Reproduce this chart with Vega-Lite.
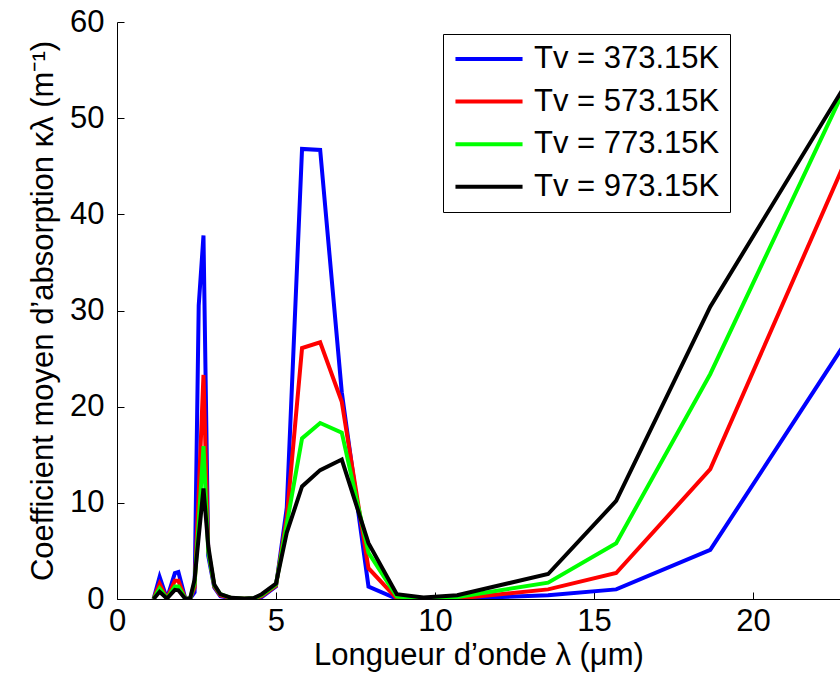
{
  "$schema": "https://vega.github.io/schema/vega-lite/v6.json",
  "width": 723,
  "height": 577,
  "autosize": {"type": "none"},
  "padding": {"left": 117, "top": 22, "right": 0, "bottom": 80},
  "background": "white",
  "config": {
    "view": {"stroke": null},
    "font": "Liberation Sans",
    "axis": {
      "domainColor": "black",
      "domainWidth": 1,
      "tickColor": "black",
      "tickWidth": 1,
      "tickSize": -7,
      "grid": false,
      "labelColor": "black",
      "titleColor": "black",
      "labelFont": "Liberation Sans",
      "titleFont": "Liberation Sans",
      "labelFontSize": 31,
      "titleFontSize": 31,
      "titleFontWeight": "normal"
    }
  },
  "data": {
    "values": [
      {"serie": "Tv = 373.15K", "lambda": 1.15, "kappa": 0},
      {"serie": "Tv = 373.15K", "lambda": 1.34, "kappa": 2.3},
      {"serie": "Tv = 373.15K", "lambda": 1.57, "kappa": 0.05},
      {"serie": "Tv = 373.15K", "lambda": 1.82, "kappa": 2.7},
      {"serie": "Tv = 373.15K", "lambda": 1.93, "kappa": 2.8},
      {"serie": "Tv = 373.15K", "lambda": 2.15, "kappa": 0.02},
      {"serie": "Tv = 373.15K", "lambda": 2.3, "kappa": 0.05},
      {"serie": "Tv = 373.15K", "lambda": 2.44, "kappa": 0.7},
      {"serie": "Tv = 373.15K", "lambda": 2.57, "kappa": 30.5},
      {"serie": "Tv = 373.15K", "lambda": 2.72, "kappa": 37.8},
      {"serie": "Tv = 373.15K", "lambda": 2.87, "kappa": 4.5},
      {"serie": "Tv = 373.15K", "lambda": 3.06, "kappa": 1.2},
      {"serie": "Tv = 373.15K", "lambda": 3.25, "kappa": 0.3},
      {"serie": "Tv = 373.15K", "lambda": 3.6, "kappa": 0.05},
      {"serie": "Tv = 373.15K", "lambda": 4.0, "kappa": 0.01},
      {"serie": "Tv = 373.15K", "lambda": 4.3, "kappa": 0.03},
      {"serie": "Tv = 373.15K", "lambda": 4.55, "kappa": 0.2},
      {"serie": "Tv = 373.15K", "lambda": 5.0, "kappa": 1.3},
      {"serie": "Tv = 373.15K", "lambda": 5.34, "kappa": 9.5},
      {"serie": "Tv = 373.15K", "lambda": 5.82, "kappa": 46.8},
      {"serie": "Tv = 373.15K", "lambda": 6.39, "kappa": 46.7},
      {"serie": "Tv = 373.15K", "lambda": 7.07, "kappa": 21.5},
      {"serie": "Tv = 373.15K", "lambda": 7.91, "kappa": 1.3},
      {"serie": "Tv = 373.15K", "lambda": 8.8, "kappa": 0.02},
      {"serie": "Tv = 373.15K", "lambda": 9.64, "kappa": 0},
      {"serie": "Tv = 373.15K", "lambda": 10.7, "kappa": 0.02},
      {"serie": "Tv = 373.15K", "lambda": 13.56, "kappa": 0.4},
      {"serie": "Tv = 373.15K", "lambda": 15.7, "kappa": 1.0},
      {"serie": "Tv = 373.15K", "lambda": 18.66, "kappa": 5.1},
      {"serie": "Tv = 373.15K", "lambda": 22.88, "kappa": 26.5},

      {"serie": "Tv = 573.15K", "lambda": 1.15, "kappa": 0},
      {"serie": "Tv = 573.15K", "lambda": 1.34, "kappa": 1.6},
      {"serie": "Tv = 573.15K", "lambda": 1.57, "kappa": 0.05},
      {"serie": "Tv = 573.15K", "lambda": 1.82, "kappa": 1.9},
      {"serie": "Tv = 573.15K", "lambda": 1.93, "kappa": 1.9},
      {"serie": "Tv = 573.15K", "lambda": 2.15, "kappa": 0.02},
      {"serie": "Tv = 573.15K", "lambda": 2.3, "kappa": 0.05},
      {"serie": "Tv = 573.15K", "lambda": 2.44, "kappa": 1.2},
      {"serie": "Tv = 573.15K", "lambda": 2.57, "kappa": 11},
      {"serie": "Tv = 573.15K", "lambda": 2.72, "kappa": 23.3},
      {"serie": "Tv = 573.15K", "lambda": 2.87, "kappa": 5},
      {"serie": "Tv = 573.15K", "lambda": 3.06, "kappa": 1.3},
      {"serie": "Tv = 573.15K", "lambda": 3.25, "kappa": 0.4},
      {"serie": "Tv = 573.15K", "lambda": 3.6, "kappa": 0.08},
      {"serie": "Tv = 573.15K", "lambda": 4.0, "kappa": 0.02},
      {"serie": "Tv = 573.15K", "lambda": 4.3, "kappa": 0.05},
      {"serie": "Tv = 573.15K", "lambda": 4.55, "kappa": 0.3},
      {"serie": "Tv = 573.15K", "lambda": 5.0, "kappa": 1.4},
      {"serie": "Tv = 573.15K", "lambda": 5.34, "kappa": 8.5},
      {"serie": "Tv = 573.15K", "lambda": 5.82, "kappa": 26.1},
      {"serie": "Tv = 573.15K", "lambda": 6.39, "kappa": 26.7},
      {"serie": "Tv = 573.15K", "lambda": 7.07, "kappa": 20.5},
      {"serie": "Tv = 573.15K", "lambda": 7.91, "kappa": 3.2},
      {"serie": "Tv = 573.15K", "lambda": 8.8, "kappa": 0.05},
      {"serie": "Tv = 573.15K", "lambda": 9.64, "kappa": 0.01},
      {"serie": "Tv = 573.15K", "lambda": 10.7, "kappa": 0.05},
      {"serie": "Tv = 573.15K", "lambda": 13.56, "kappa": 1.0},
      {"serie": "Tv = 573.15K", "lambda": 15.7, "kappa": 2.7},
      {"serie": "Tv = 573.15K", "lambda": 18.66, "kappa": 13.5},
      {"serie": "Tv = 573.15K", "lambda": 22.88, "kappa": 45.3},

      {"serie": "Tv = 773.15K", "lambda": 1.15, "kappa": 0},
      {"serie": "Tv = 773.15K", "lambda": 1.34, "kappa": 1.1},
      {"serie": "Tv = 773.15K", "lambda": 1.57, "kappa": 0.05},
      {"serie": "Tv = 773.15K", "lambda": 1.82, "kappa": 1.3},
      {"serie": "Tv = 773.15K", "lambda": 1.93, "kappa": 1.3},
      {"serie": "Tv = 773.15K", "lambda": 2.15, "kappa": 0.02},
      {"serie": "Tv = 773.15K", "lambda": 2.3, "kappa": 0.05},
      {"serie": "Tv = 773.15K", "lambda": 2.44, "kappa": 1.6},
      {"serie": "Tv = 773.15K", "lambda": 2.57, "kappa": 8},
      {"serie": "Tv = 773.15K", "lambda": 2.72, "kappa": 15.9},
      {"serie": "Tv = 773.15K", "lambda": 2.87, "kappa": 5},
      {"serie": "Tv = 773.15K", "lambda": 3.06, "kappa": 1.4},
      {"serie": "Tv = 773.15K", "lambda": 3.25, "kappa": 0.5},
      {"serie": "Tv = 773.15K", "lambda": 3.6, "kappa": 0.1},
      {"serie": "Tv = 773.15K", "lambda": 4.0, "kappa": 0.03},
      {"serie": "Tv = 773.15K", "lambda": 4.3, "kappa": 0.07},
      {"serie": "Tv = 773.15K", "lambda": 4.55, "kappa": 0.4},
      {"serie": "Tv = 773.15K", "lambda": 5.0, "kappa": 1.5},
      {"serie": "Tv = 773.15K", "lambda": 5.34, "kappa": 7.8},
      {"serie": "Tv = 773.15K", "lambda": 5.82, "kappa": 16.7},
      {"serie": "Tv = 773.15K", "lambda": 6.39, "kappa": 18.3},
      {"serie": "Tv = 773.15K", "lambda": 7.07, "kappa": 17.3},
      {"serie": "Tv = 773.15K", "lambda": 7.91, "kappa": 4.8},
      {"serie": "Tv = 773.15K", "lambda": 8.8, "kappa": 0.25},
      {"serie": "Tv = 773.15K", "lambda": 9.64, "kappa": 0.05},
      {"serie": "Tv = 773.15K", "lambda": 10.7, "kappa": 0.2},
      {"serie": "Tv = 773.15K", "lambda": 13.56, "kappa": 1.7},
      {"serie": "Tv = 773.15K", "lambda": 15.7, "kappa": 5.8},
      {"serie": "Tv = 773.15K", "lambda": 18.66, "kappa": 23.4},
      {"serie": "Tv = 773.15K", "lambda": 22.88, "kappa": 53.0},

      {"serie": "Tv = 973.15K", "lambda": 1.15, "kappa": 0},
      {"serie": "Tv = 973.15K", "lambda": 1.34, "kappa": 0.75},
      {"serie": "Tv = 973.15K", "lambda": 1.57, "kappa": 0.05},
      {"serie": "Tv = 973.15K", "lambda": 1.82, "kappa": 0.95},
      {"serie": "Tv = 973.15K", "lambda": 1.93, "kappa": 0.9},
      {"serie": "Tv = 973.15K", "lambda": 2.15, "kappa": 0.02},
      {"serie": "Tv = 973.15K", "lambda": 2.3, "kappa": 0.05},
      {"serie": "Tv = 973.15K", "lambda": 2.44, "kappa": 2.0},
      {"serie": "Tv = 973.15K", "lambda": 2.57, "kappa": 6.5},
      {"serie": "Tv = 973.15K", "lambda": 2.72, "kappa": 11.5},
      {"serie": "Tv = 973.15K", "lambda": 2.87, "kappa": 5.5},
      {"serie": "Tv = 973.15K", "lambda": 3.06, "kappa": 1.5},
      {"serie": "Tv = 973.15K", "lambda": 3.25, "kappa": 0.5},
      {"serie": "Tv = 973.15K", "lambda": 3.6, "kappa": 0.12},
      {"serie": "Tv = 973.15K", "lambda": 4.0, "kappa": 0.05},
      {"serie": "Tv = 973.15K", "lambda": 4.3, "kappa": 0.1},
      {"serie": "Tv = 973.15K", "lambda": 4.55, "kappa": 0.5},
      {"serie": "Tv = 973.15K", "lambda": 5.0, "kappa": 1.6},
      {"serie": "Tv = 973.15K", "lambda": 5.34, "kappa": 6.9},
      {"serie": "Tv = 973.15K", "lambda": 5.82, "kappa": 11.7},
      {"serie": "Tv = 973.15K", "lambda": 6.39, "kappa": 13.4},
      {"serie": "Tv = 973.15K", "lambda": 7.07, "kappa": 14.5},
      {"serie": "Tv = 973.15K", "lambda": 7.91, "kappa": 5.8},
      {"serie": "Tv = 973.15K", "lambda": 8.8, "kappa": 0.5},
      {"serie": "Tv = 973.15K", "lambda": 9.64, "kappa": 0.15},
      {"serie": "Tv = 973.15K", "lambda": 10.7, "kappa": 0.4},
      {"serie": "Tv = 973.15K", "lambda": 13.56, "kappa": 2.6},
      {"serie": "Tv = 973.15K", "lambda": 15.7, "kappa": 10.2},
      {"serie": "Tv = 973.15K", "lambda": 18.66, "kappa": 30.4},
      {"serie": "Tv = 973.15K", "lambda": 22.88, "kappa": 53.3}
    ]
  },
  "mark": {"type": "line", "strokeWidth": 4, "clip": true, "strokeJoin": "miter"},
  "encoding": {
    "x": {
      "field": "lambda",
      "type": "quantitative",
      "scale": {"domain": [0, 22.74], "nice": false, "zero": false},
      "axis": {
        "title": "Longueur d’onde λ (μm)",
        "values": [0, 5, 10, 15, 20],
        "labelPadding": 14,
        "titlePadding": 4,
        "labelFlush": false
      }
    },
    "y": {
      "field": "kappa",
      "type": "quantitative",
      "scale": {"domain": [0, 60], "nice": false},
      "axis": {
        "title": "Coefficient moyen d’absorption κλ (m⁻¹)",
        "values": [0, 10, 20, 30, 40, 50, 60],
        "labelPadding": 20,
        "titlePadding": 10
      }
    },
    "color": {
      "field": "serie",
      "type": "nominal",
      "scale": {
        "domain": ["Tv = 373.15K", "Tv = 573.15K", "Tv = 773.15K", "Tv = 973.15K"],
        "range": ["#0000ff", "#ff0000", "#00ff00", "#000000"]
      },
      "legend": {
        "title": null,
        "orient": "none",
        "legendX": 326,
        "legendY": 12,
        "strokeColor": "black",
        "fillColor": "white",
        "padding": 10,
        "symbolType": "stroke",
        "symbolSize": 4500,
        "symbolStrokeWidth": 4,
        "clipHeight": 30,
        "labelFontSize": 31,
        "labelFont": "Liberation Sans",
        "labelColor": "black",
        "labelOffset": 9,
        "labelLimit": 400,
        "rowPadding": 11.6
      }
    }
  }
}
